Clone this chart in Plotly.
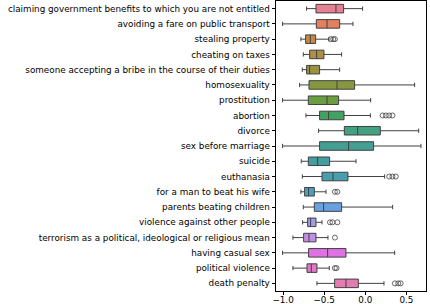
import math
import colorsys
import plotly.graph_objects as go

categories = [
    "claiming government benefits to which you are not entitled",
    "avoiding a fare on public transport",
    "stealing property",
    "cheating on taxes",
    "someone accepting a bribe in the course of their duties",
    "homosexuality",
    "prostitution",
    "abortion",
    "divorce",
    "sex before marriage",
    "suicide",
    "euthanasia",
    "for a man to beat his wife",
    "parents beating children",
    "violence against other people",
    "terrorism as a political, ideological or religious mean",
    "having casual sex",
    "political violence",
    "death penalty",
]
lower_whisker = [-0.714, -1.006, -0.783, -0.754, -0.766, -0.799, -1.006, -0.722, -0.568, -1.006,
                 -0.779, -0.766, -0.783, -0.754, -0.762, -0.880, -1.006, -0.880, -0.588]
q1_vals = [-0.600, -0.596, -0.726, -0.677, -0.714, -0.685, -0.693, -0.556, -0.255, -0.556,
           -0.693, -0.527, -0.738, -0.620, -0.701, -0.750, -0.690, -0.709, -0.373]
median_vals = [-0.357, -0.466, -0.669, -0.592, -0.677, -0.344, -0.466, -0.446, -0.093, -0.203,
               -0.580, -0.393, -0.690, -0.507, -0.665, -0.685, -0.458, -0.657, -0.235]
q3_vals = [-0.264, -0.312, -0.604, -0.503, -0.556, -0.130, -0.325, -0.259, 0.182, 0.101,
           -0.434, -0.211, -0.620, -0.288, -0.600, -0.600, -0.235, -0.588, -0.085]
upper_whisker = [-0.033, -0.150, -0.442, -0.288, -0.312, 0.600, 0.065, 0.061, 0.649, 0.677,
                 -0.113, 0.235, -0.478, 0.332, -0.527, -0.454, 0.357, -0.438, 0.227]
outliers = [
    [], [], [-0.42, -0.39, -0.37], [], [], [], [], [0.21, 0.25, 0.29, 0.33], [], [],
    [], [0.29, 0.33, 0.37], [-0.37, -0.34], [], [-0.43, -0.40, -0.34], [-0.37], [],
    [-0.37, -0.35], [0.36, 0.40, 0.43],
]


# ---- seaborn-like husl palette (styling) ----
_M = [[3.240969941904521, -1.537383177570093, -0.498610760293],
      [-0.96924363628087, 1.87596750150772, 0.041555057407175],
      [0.055630079696993, -0.20397695888897, 1.056971514242878]]
_refU, _refV = 0.19783000664283, 0.46831999493879
_kappa, _eps = 903.2962962, 0.0088564516


def _bounds(L):
    sub1 = ((L + 16.0) ** 3.0) / 1560896.0
    sub2 = sub1 if sub1 > _eps else L / _kappa
    out = []
    for m1, m2, m3 in _M:
        for t in (0, 1):
            top1 = (284517.0 * m1 - 94839.0 * m3) * sub2
            top2 = (838422.0 * m3 + 769860.0 * m2 + 731718.0 * m1) * L * sub2 - 769860.0 * t * L
            bottom = (632260.0 * m3 - 126452.0 * m2) * sub2 + 126452.0 * t
            out.append((top1 / bottom, top2 / bottom))
    return out


def _max_chroma(L, H):
    hr = math.radians(H)
    s, c = math.sin(hr), math.cos(hr)
    res = float("inf")
    for m1, b1 in _bounds(L):
        ln = b1 / (s - m1 * c)
        if ln > 0:
            res = min(res, ln)
    return res


def husl_to_rgb(H, S, L):
    C = _max_chroma(L, H) / 100.0 * S
    hr = math.radians(H)
    U, V = C * math.cos(hr), C * math.sin(hr)
    Y = ((L + 16) / 116.0) ** 3 if L > 8 else L / _kappa
    vu = U / (13 * L) + _refU
    vv = V / (13 * L) + _refV
    X = 0 - (9 * Y * vu) / ((vu - 4) * vv - vu * vv)
    Z = (9 * Y - 15 * vv * Y - vv * X) / (3 * vv)
    rgb = []
    for row in _M:
        v = row[0] * X + row[1] * Y + row[2] * Z
        v = 12.92 * v if v <= 0.0031308 else 1.055 * v ** (1 / 2.4) - 0.055
        rgb.append(min(max(v, 0.0), 1.0))
    return rgb


n = len(categories)
colors = []
lights = []
for i in range(n):
    h = ((i / n) + 0.01) % 1 * 359
    r, g, b = husl_to_rgb(h, 0.9 * 99, 0.65 * 99)
    hh, ll, ss = colorsys.rgb_to_hls(r, g, b)
    r, g, b = colorsys.hls_to_rgb(hh, ll, ss * 0.75)
    lights.append(colorsys.rgb_to_hls(r, g, b)[1])
    colors.append("rgb(%d,%d,%d)" % (round(r * 255), round(g * 255), round(b * 255)))
lum = round(min(lights) * 0.6 * 255)
gray = "rgb(%d,%d,%d)" % (lum, lum, lum)

fig = go.Figure()
for i, cat in enumerate(categories):
    fig.add_trace(go.Box(
        y=[cat], q1=[q1_vals[i]], median=[median_vals[i]], q3=[q3_vals[i]],
        lowerfence=[lower_whisker[i]], upperfence=[upper_whisker[i]],
        orientation="h", fillcolor=colors[i], line=dict(color=gray, width=1),
        whiskerwidth=0.5, showlegend=False, hoverinfo="skip",
    ))

ox, oy = [], []
for i, cat in enumerate(categories):
    for v in outliers[i]:
        ox.append(v)
        oy.append(cat)
fig.add_trace(go.Scatter(
    x=ox, y=oy, mode="markers", showlegend=False, hoverinfo="skip",
    marker=dict(symbol="circle-open", size=5, color=gray, line=dict(width=0.8, color=gray)),
))

fig.update_layout(
    width=430, height=304,
    margin=dict(l=276, r=4, t=1, b=13),
    paper_bgcolor="white", plot_bgcolor="white",
    boxmode="overlay", boxgap=0.2,
    font=dict(family="DejaVu Sans", size=8.8, color="black"),
)
fig.update_xaxes(
    range=[-1.086, 0.738], tickvals=[-1.0, -0.5, 0.0, 0.5],
    ticktext=["\u22121.0", "\u22120.5", "0.0", "0.5"],
    ticks="outside", ticklen=3.5, tickcolor="black", tickwidth=0.8,
    showline=True, linecolor="black", linewidth=0.8, mirror=True,
    showgrid=False, zeroline=False, automargin=False, ticklabelstandoff=-3,
)
fig.update_yaxes(
    categoryorder="array", categoryarray=categories, range=[n - 0.5, -0.5],
    ticks="outside", ticklen=3.5, tickcolor="black", tickwidth=0.8,
    showline=True, linecolor="black", linewidth=0.8, mirror=True,
    showgrid=False, zeroline=False, automargin=False,
)
fig.write_html(
    "out.html",
    config={"displayModeBar": False},
    post_script="document.body.style.margin='0';document.body.style.overflow='hidden';",
)
